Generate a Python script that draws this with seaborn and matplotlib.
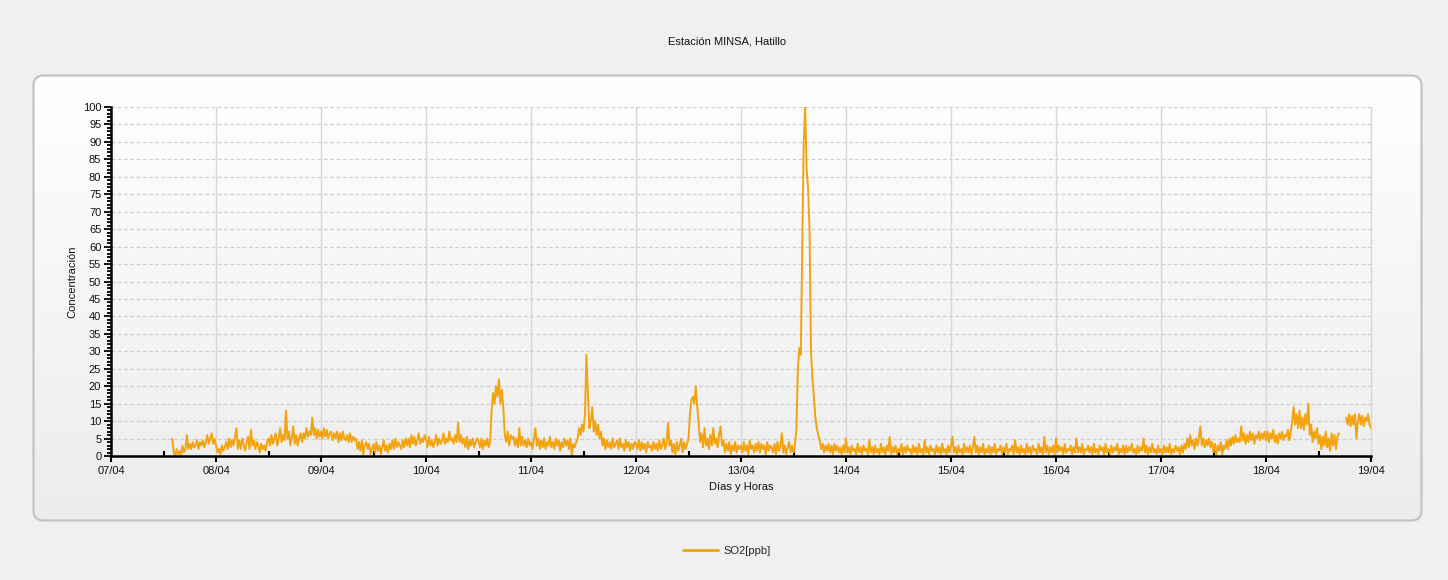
import numpy as np
import pandas as pd
import matplotlib
matplotlib.use("Agg")
import matplotlib.pyplot as plt
import matplotlib.dates as mdates
from matplotlib.patches import FancyBboxPatch
from matplotlib.transforms import IdentityTransform
from matplotlib.colors import LinearSegmentedColormap
from matplotlib.lines import Line2D
import seaborn as sns

# ---------------- data (20-minute readings, SO2 in ppb) ----------------
title = "Estación MINSA, Hatillo"
series_name = "SO2[ppb]"
x_label = "Días y Horas"
y_label = "Concentración"
start_time = "2019-04-07 14:00"
step = "20min"

d0704 = [5, 1, 0, 2, 0.5, 1.5, 0, 3, 1, 2, 6, 2,
         3.5, 2, 4, 2.5, 3, 4.5, 2, 4, 3, 4.5, 2.5, 4,
         6, 3.5, 5, 6.5, 3.5, 5]
d0804 = [3, 1, 2, 0.5, 3, 1.5, 2.5, 4, 2, 5, 2.5, 4.5,
         3, 5.5, 8, 2, 4.5, 2, 5, 3, 1.5, 4, 5.5, 2,
         7.5, 3, 4.5, 2, 4, 3, 1, 3.5, 2, 3, 1.5, 4,
         5, 3, 6, 3.5, 5, 6.5, 3, 5, 8, 4, 6, 4.5,
         13, 5, 7, 3, 5.5, 8.5, 3.5, 6, 3, 5, 6.5, 4,
         6.5, 5, 8, 5.5, 7, 6, 11, 6, 8, 5, 7.5, 5.5]
d0904 = [7, 5, 8, 5.5, 7.5, 5, 6.5, 7, 4.5, 6.5, 5, 7,
         4, 6.5, 4.5, 7, 5, 4.5, 6, 4, 6.5, 4, 5.5, 4.5,
         5, 2, 4, 1.5, 4.5, 0.5, 3, 4, 2, 3.5, 0.5, 2,
         3.5, 1, 4, 1.5, 3, 0.5, 2.5, 4.5, 1.5, 3, 1, 3.5,
         2, 4.5, 2, 5, 2.5, 4, 3, 2, 4.5, 2.5, 5, 3,
         5, 2.5, 6, 3.5, 5.5, 3, 4.5, 6.5, 3.5, 5, 4, 6]
d1004 = [5, 2.5, 5.5, 3, 4.5, 2.5, 4, 6, 3, 5, 3.5, 4.5,
         6.5, 3.5, 5, 4, 7, 4.5, 5, 3.5, 6, 4, 9.5, 4,
         6, 3.5, 5, 2.5, 5.5, 2, 4.5, 3, 5, 2.5, 4, 5,
         4.5, 2.5, 5, 2, 4.5, 3, 5, 2.5, 4, 13, 18, 15,
         20, 17, 22, 15, 19, 14, 6, 4, 7, 3, 6, 5,
         5.5, 3, 5, 2.5, 8, 3, 5.5, 3, 4.5, 2.5, 5, 3]
d1104 = [4, 2, 5, 8, 3, 5, 2, 4.5, 2.5, 5, 2, 4,
         3, 5.5, 2.5, 4, 2, 5, 3, 4.5, 1.5, 4, 2.5, 5,
         3, 4.5, 2, 5, 0, 3.5, 2.5, 4, 5, 8, 6, 9,
         7, 12, 29, 18, 8, 10, 14, 7, 10, 6, 9, 5,
         7, 3, 5, 2, 4.5, 2.5, 4, 2, 5, 2.5, 3.5, 4.5,
         2, 5, 2.5, 3.5, 1.5, 4.5, 2.5, 4, 1.5, 3.5, 2, 4]
d1204 = [3.5, 2, 4.5, 1.5, 4, 2, 3.5, 1, 4, 2.5, 3, 1.5,
         4, 2, 3.5, 1.5, 4.5, 2, 3, 5, 2, 4, 9.5, 3,
         4.5, 1, 3.5, 0.5, 4, 1.5, 3, 5, 1, 4, 2, 3.5,
         5, 12, 16, 17, 15, 20, 14, 9, 4, 6.5, 2.5, 8,
         3, 5, 2, 6, 3, 8, 3.5, 5, 2.5, 6.5, 8.5, 3,
         4.5, 1, 3.5, 1.5, 4, 0.5, 3, 1.5, 4, 1, 3, 2]
d1304 = [3, 1, 4, 1.5, 3, 0.5, 4.5, 2, 3, 1, 3.5, 1.5,
         4, 1, 3.5, 2, 3, 0.5, 4, 1.5, 3, 2.5, 1, 3.5,
         0.5, 4, 1.5, 3, 6.5, 1, 3, 0.5, 2.5, 4, 1, 3,
         1, 3, 8, 25, 31, 29, 60, 90, 100, 82, 77, 65,
         30, 22, 17, 11, 8, 6, 4.5, 2, 3.5, 1, 3, 1.5,
         3.5, 1, 3, 0.5, 3.5, 1.5, 3, 1, 2.5, 0.5, 3, 1]
d1404 = [5, 1, 2.5, 0.5, 3, 1.5, 2, 0.5, 3.5, 1, 2.5, 0.5,
         3, 1.5, 2, 0.5, 4.5, 1, 2.5, 0.5, 3, 1, 2, 0.5,
         3.5, 1, 2.5, 0.5, 3, 1.5, 5.5, 0.5, 2.5, 1, 3, 0.5,
         2, 1, 3.5, 0.5, 2.5, 1, 3, 1.5, 2, 0.5, 3, 1,
         2.5, 0.5, 3.5, 1, 2, 0.5, 4.5, 1, 2.5, 0.5, 3, 1.5,
         2, 0.5, 3, 1, 2.5, 0.5, 3.5, 1, 2, 0.5, 3, 1]
d1504 = [3, 5.5, 1, 2.5, 0.5, 3, 1, 2, 0.5, 3.5, 1, 2.5,
         1, 3, 0.5, 2.5, 5.5, 1, 3, 0.5, 2.5, 1, 3.5, 0.5,
         2, 1, 3, 0.5, 2.5, 1, 3.5, 0.5, 2, 1.5, 3, 0.5,
         2.5, 1, 3.5, 0.5, 2, 1.5, 3, 0.5, 4.5, 1, 2.5, 0.5,
         3, 1, 2, 0.5, 3.5, 1, 2.5, 0.5, 3, 1.5, 2, 0.5,
         3.5, 1, 2.5, 0.5, 5.5, 1, 3, 0.5, 2.5, 1, 3, 0.5]
d1604 = [5, 1, 3, 1.5, 2.5, 0.5, 3.5, 1, 2, 1.5, 3, 0.5,
         2.5, 1, 5, 1, 2.5, 1, 3.5, 0.5, 2, 1.5, 3, 1,
         2.5, 0.5, 3.5, 1, 2, 0.5, 3, 1.5, 2.5, 0.5, 3.5, 1,
         2, 0.5, 3, 1, 2.5, 1.5, 3.5, 0.5, 2, 1, 3, 0.5,
         3, 1, 2.5, 1.5, 3.5, 1, 2, 0.5, 3, 1, 2.5, 1.5,
         5, 1, 3, 0.5, 2.5, 1, 3.5, 1, 2, 0.5, 3, 1]
d1704 = [2, 0.5, 3, 1, 2.5, 1, 3.5, 0.5, 2, 1, 3, 1.5,
         2.5, 0.5, 3, 1, 3.5, 2, 5, 2.5, 6, 3, 4.5, 2,
         5, 3, 5.5, 8.5, 3, 5, 2.5, 4.5, 3, 5, 2.5, 4,
         1, 3.5, 0.5, 3, 1.5, 4, 0.5, 3, 2, 4.5, 2, 5,
         3, 5.5, 3.5, 6, 4, 5, 4, 8.5, 4.5, 6.5, 3.5, 6,
         4, 7, 4.5, 6.5, 3.5, 6, 5, 7, 4.5, 6.5, 5, 7]
d1804 = [4.5, 7, 4, 6.5, 5, 7.5, 4, 6, 3.5, 6.5, 5, 7,
         4.5, 6, 5.5, 7.5, 4.5, 7, 10, 14, 9, 12, 8, 13,
         8, 11, 7.5, 12, 9, 15, 6, 9, 4, 7, 5, 8,
         3.5, 6, 2, 5.5, 3, 7, 2.5, 5, 1.5, 6.5, 3, 6,
         2, 5.5, 6.5, None, None, None, None, 11, 9, 12, 8.5, 11.5,
         9, 12, 5, 10, 12, 9, 11.5, 8.5, 11, 10, 12, 9]
d1904 = [8]

x_start = "2019-04-07"
x_end = "2019-04-19"
y_ticks = list(range(0, 101, 5))

# ---------------- build table ----------------
values = (d0704 + d0804 + d0904 + d1004 + d1104 + d1204 + d1304 +
          d1404 + d1504 + d1604 + d1704 + d1804 + d1904)
vals = np.array([np.nan if v is None else v for v in values], dtype=float)
times = pd.date_range(start_time, periods=len(vals), freq=step)
seg = np.cumsum(np.isnan(vals))
df = pd.DataFrame({"time": times, "value": vals, "seg": seg}).dropna()

# ---------------- style ----------------
LINE = "#F2A30F"
sns.set_style("white")
plt.rcParams["font.family"] = ["Liberation Sans", "DejaVu Sans"]
plt.rcParams["font.size"] = 8

W, H = 1448, 580
fig = plt.figure(figsize=(W / 100, H / 100), dpi=100, facecolor="#f0f0f0")

# rounded panel with gradient
px0, px1, py_top, py_bot = 33, 1422, 75, 521
bg = fig.add_axes([px0 / W, (H - py_bot) / H, (px1 - px0) / W, (py_bot - py_top) / H])
bg.set_axis_off()
bg.set_zorder(0)
cmap = LinearSegmentedColormap.from_list("g", ["#ffffff", "#ececec"])
grad = np.linspace(0, 1, 256).reshape(-1, 1)
im = bg.imshow(grad, aspect="auto", extent=[0, 1, 0, 1], cmap=cmap, origin="upper")
clip = FancyBboxPatch((px0 + 0.5, H - py_bot + 0.5), px1 - px0 - 1, py_bot - py_top - 1,
                      boxstyle="round,pad=0,rounding_size=10", transform=IdentityTransform(),
                      facecolor="none", edgecolor="none")
bg.add_patch(clip)
im.set_clip_path(clip)
border = FancyBboxPatch((px0 + 0.5, H - py_bot + 0.5), px1 - px0 - 1, py_bot - py_top - 1,
                        boxstyle="round,pad=0,rounding_size=10", transform=IdentityTransform(),
                        facecolor="none", edgecolor="#c4c4c4", linewidth=1.6)
border.set_clip_on(False)
bg.add_patch(border)

# main axes
ax_l, ax_r, ax_t, ax_b = 111, 1371, 107, 456
ax = fig.add_axes([ax_l / W, (H - ax_b) / H, (ax_r - ax_l) / W, (ax_b - ax_t) / H])
ax.set_zorder(1)
ax.set_facecolor("none")

sns.lineplot(data=df, x="time", y="value", units="seg", estimator=None,
             color=LINE, linewidth=1.4, ax=ax, legend=False)

ax.set_xlim(pd.Timestamp(x_start), pd.Timestamp(x_end))
ax.set_ylim(0, 100)
ax.set_yticks(y_ticks)
ax.yaxis.set_minor_locator(matplotlib.ticker.MultipleLocator(1))
ax.xaxis.set_major_locator(mdates.DayLocator())
ax.xaxis.set_major_formatter(mdates.DateFormatter("%d/%m"))
ax.xaxis.set_minor_locator(mdates.HourLocator(byhour=[12]))

for s in ["top", "right"]:
    ax.spines[s].set_visible(False)
for s in ["left", "bottom"]:
    ax.spines[s].set_color("black")
    ax.spines[s].set_linewidth(1.8)
    ax.spines[s].set_zorder(5)

ax.tick_params(axis="y", which="both", left=True, right=False)
ax.tick_params(axis="x", which="both", bottom=True, top=False)
ax.tick_params(axis="y", which="major", direction="out", length=5, width=1.3,
               color="black", labelsize=8, pad=2, labelcolor="#111111")
ax.tick_params(axis="y", which="minor", direction="out", length=3, width=1.3, color="black")
ax.tick_params(axis="x", which="major", direction="out", length=4.5, width=1.5,
               color="black", labelsize=8, pad=3, labelcolor="#111111")
ax.tick_params(axis="x", which="minor", direction="in", length=3.5, width=1.5, color="black")

ax.grid(False)
for yv in y_ticks[1:]:
    ax.axhline(yv, color="#cfcfcf", linewidth=0.9, linestyle=(0, (3, 2)), zorder=0)
for d in pd.date_range(x_start, x_end, freq="D")[1:]:
    ax.axvline(d, color="#d6d6d6", linewidth=1.0, zorder=0, clip_on=False)

ax.set_xlabel(x_label, fontsize=8, color="#111111")
ax.set_ylabel(y_label, fontsize=8, color="#111111")
ax.xaxis.set_label_coords(0.5, -(482 - ax_b) / (ax_b - ax_t))
ax.yaxis.set_label_coords(-(ax_l - 77) / (ax_r - ax_l), 0.5)

fig.text(0.5 * (px0 + px1) / W, (H - 42) / H, title, ha="center", va="center",
         fontsize=8, color="#111111")

handle = Line2D([], [], color=LINE, linewidth=2)
fig.legend([handle], [series_name], loc="center", bbox_to_anchor=(727 / W, (H - 551) / H),
           frameon=False, fontsize=8, handlelength=3.2, handletextpad=0.5)

fig.savefig("out.png", dpi=100, facecolor=fig.get_facecolor())
